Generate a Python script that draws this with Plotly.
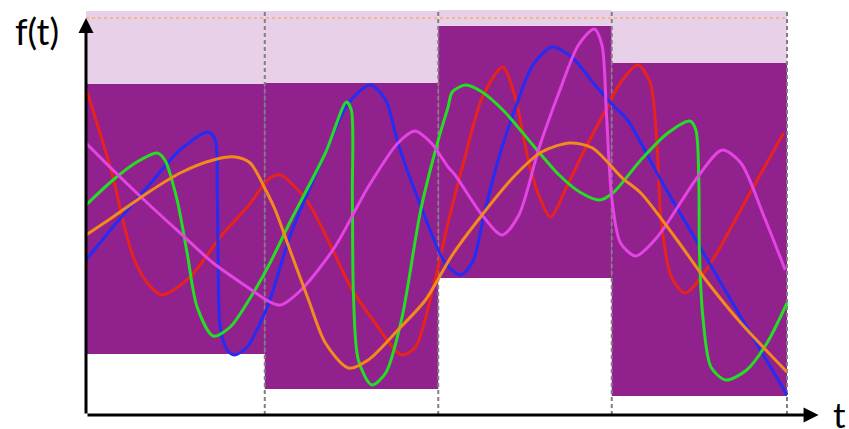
import plotly.graph_objects as go

# Interval boundaries (t) and envelope bounds per interval
interval_edges = [0, 1.02, 2.01, 3.0, 4.0]
env_low = [0.61, 0.26, 1.37, 0.19]
env_high = [3.31, 3.32, 3.89, 3.52]
band_top = [4.04, 4.04, 4.05, 4.04]
ref_level = 3.97

red_t = [0.0, 0.08, 0.154, 0.21, 0.27, 0.35, 0.434, 0.594, 0.766, 0.92, 1.05, 1.11, 1.17, 1.27, 1.40, 1.51, 1.65, 1.80, 1.88, 1.98, 2.07, 2.166, 2.26, 2.377, 2.45, 2.53, 2.59, 2.65, 2.74, 2.83, 2.95, 3.06, 3.15, 3.22, 3.26, 3.28, 3.34, 3.42, 3.55, 3.77, 3.98]
red_f = [3.27, 2.82, 2.38, 1.95, 1.58, 1.32, 1.20, 1.38, 1.78, 2.08, 2.37, 2.40, 2.32, 2.12, 1.68, 1.28, 0.92, 0.60, 0.68, 1.27, 1.95, 2.60, 3.17, 3.48, 3.17, 2.50, 2.17, 1.98, 2.27, 2.60, 3.00, 3.35, 3.50, 3.32, 2.65, 1.98, 1.38, 1.22, 1.48, 2.16, 2.82]

blue_t = [0.0, 0.154, 0.35, 0.537, 0.697, 0.737, 0.749, 0.754, 0.766, 0.806, 0.846, 0.92, 0.994, 1.05, 1.17, 1.366, 1.497, 1.623, 1.71, 1.78, 1.897, 2.05, 2.137, 2.206, 2.28, 2.36, 2.45, 2.55, 2.66, 2.777, 2.89, 3.006, 3.09, 3.28, 3.47, 3.74, 4.0]
blue_f = [1.55, 1.88, 2.28, 2.65, 2.83, 2.75, 2.22, 1.55, 0.88, 0.65, 0.60, 0.68, 0.92, 1.15, 1.82, 2.62, 3.12, 3.30, 3.15, 2.72, 2.15, 1.52, 1.40, 1.53, 2.07, 2.60, 3.07, 3.50, 3.68, 3.57, 3.33, 3.10, 2.95, 2.35, 1.78, 0.97, 0.20]

green_t = [0.0, 0.154, 0.29, 0.406, 0.45, 0.52, 0.577, 0.634, 0.726, 0.823, 0.954, 1.05, 1.17, 1.366, 1.486, 1.514, 1.52, 1.526, 1.554, 1.63, 1.71, 1.80, 1.91, 2.01, 2.066, 2.09, 2.166, 2.26, 2.39, 2.55, 2.70, 2.817, 2.93, 3.006, 3.166, 3.32, 3.446, 3.48, 3.497, 3.50, 3.52, 3.566, 3.65, 3.77, 3.886, 4.0]
green_f = [2.10, 2.35, 2.53, 2.62, 2.55, 2.15, 1.62, 1.08, 0.79, 0.88, 1.22, 1.52, 1.95, 2.62, 3.13, 3.05, 2.22, 1.22, 0.55, 0.30, 0.42, 0.95, 2.05, 2.75, 3.08, 3.23, 3.30, 3.23, 3.03, 2.70, 2.40, 2.23, 2.15, 2.22, 2.55, 2.82, 2.94, 2.85, 2.32, 1.65, 0.98, 0.48, 0.35, 0.45, 0.72, 1.12]

magenta_t = [0.0, 0.154, 0.35, 0.537, 0.726, 0.92, 1.05, 1.11, 1.227, 1.42, 1.61, 1.78, 1.877, 1.97, 2.066, 2.106, 2.26, 2.374, 2.47, 2.585, 2.70, 2.81, 2.90, 2.944, 2.97, 3.00, 3.05, 3.137, 3.26, 3.49, 3.63, 3.737, 3.87, 3.99]
magenta_f = [2.72, 2.45, 2.12, 1.82, 1.52, 1.28, 1.13, 1.10, 1.25, 1.68, 2.28, 2.72, 2.84, 2.72, 2.48, 2.40, 2.00, 1.80, 2.00, 2.67, 3.23, 3.70, 3.86, 3.70, 3.00, 2.17, 1.72, 1.59, 1.78, 2.38, 2.65, 2.52, 1.98, 1.45]

orange_t = [0.0, 0.154, 0.35, 0.537, 0.726, 0.85, 0.937, 1.034, 1.08, 1.17, 1.27, 1.366, 1.497, 1.61, 1.78, 1.937, 2.09, 2.26, 2.45, 2.60, 2.76, 2.89, 3.06, 3.166, 3.36, 3.55, 3.737, 4.0]
orange_f = [1.80, 1.98, 2.22, 2.42, 2.55, 2.58, 2.52, 2.22, 2.05, 1.62, 1.15, 0.72, 0.47, 0.55, 0.85, 1.15, 1.60, 2.00, 2.40, 2.63, 2.72, 2.67, 2.37, 2.22, 1.78, 1.32, 0.92, 0.43]

series = [
    (red_t, red_f, "rgb(232,35,30)"),
    (blue_t, blue_f, "rgb(35,45,245)"),
    (green_t, green_f, "rgb(35,222,35)"),
    (magenta_t, magenta_f, "rgb(228,68,228)"),
    (orange_t, orange_f, "rgb(242,138,28)"),
]

DARK = "rgb(145,33,140)"
LIGHT = "rgb(232,209,232)"

fig = go.Figure()
for t, f, c in series:
    fig.add_trace(go.Scatter(x=t, y=f, mode="lines",
                             line=dict(color=c, width=3, shape="spline", smoothing=0.8),
                             showlegend=False, hoverinfo="skip"))

shapes = []
for i in range(4):
    x0, x1 = interval_edges[i], interval_edges[i + 1]
    shapes.append(dict(type="rect", xref="x", yref="y", x0=x0, x1=x1, y0=env_high[i], y1=band_top[i],
                       fillcolor=LIGHT, line=dict(width=0), layer="below"))
    shapes.append(dict(type="rect", xref="x", yref="y", x0=x0, x1=x1, y0=env_low[i], y1=env_high[i],
                       fillcolor=DARK, line=dict(width=0), layer="below"))
for e in interval_edges[1:]:
    shapes.append(dict(type="line", xref="x", yref="y", x0=e, x1=e, y0=0, y1=4.04,
                       line=dict(color="rgb(128,128,128)", width=2, dash="4px,3px"), layer="below"))
shapes.append(dict(type="line", xref="x", yref="y", x0=0, x1=interval_edges[-1], y0=ref_level, y1=ref_level,
                   line=dict(color="rgb(255,160,40)", width=1, dash="dot"), layer="below"))

annotations = [
    dict(x=4.18, y=0, ax=0, ay=0, xref="x", yref="y", axref="x", ayref="y",
         showarrow=True, arrowhead=2, arrowsize=1, arrowwidth=3, arrowcolor="black", text=""),
    dict(x=0, y=3.97, ax=0, ay=0, xref="x", yref="y", axref="x", ayref="y",
         showarrow=True, arrowhead=2, arrowsize=1, arrowwidth=3, arrowcolor="black", text=""),
    dict(x=(36.5 - 86) / 744, y=(415 - 31) / 410, xref="paper", yref="paper", text="f(t)", showarrow=False,
         xanchor="center", yanchor="middle",
         font=dict(family="Lato", size=36, color="black")),
    dict(x=(839 - 86) / 744, y=(415 - 414) / 410, xref="paper", yref="paper", text="t", showarrow=False,
         xanchor="center", yanchor="middle",
         font=dict(family="Lato", size=35, color="black")),
]

fig.update_layout(
    width=849, height=429,
    margin=dict(l=86, r=19, t=5, b=14),
    paper_bgcolor="white", plot_bgcolor="white",
    shapes=shapes, annotations=annotations,
    xaxis=dict(range=[0, 744 / 175.25], visible=False, fixedrange=True),
    yaxis=dict(range=[0, 4.10], visible=False, fixedrange=True),
)

fig.write_html("out.html", config={"displayModeBar": False},
               post_script="document.body.style.margin='0';document.body.style.overflow='hidden';")
